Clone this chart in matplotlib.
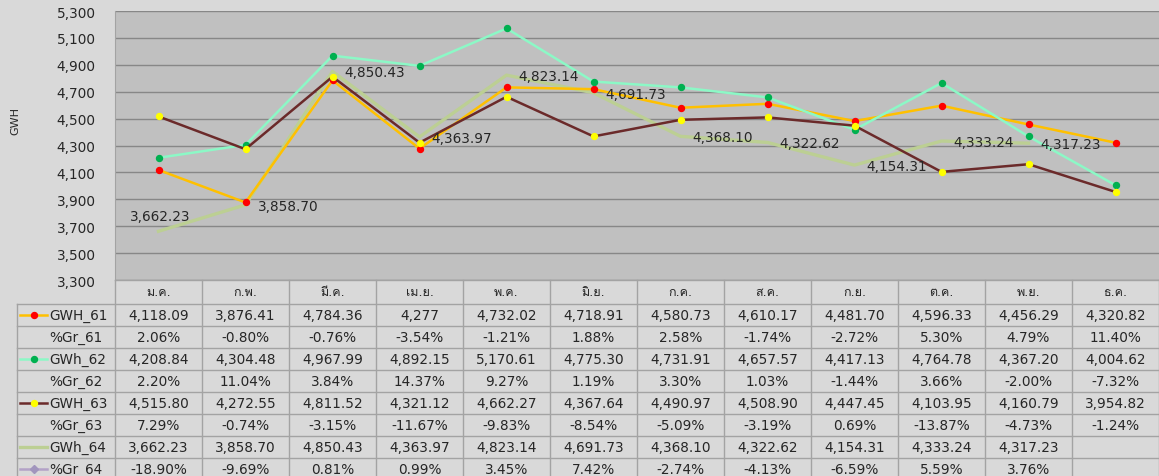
import matplotlib
matplotlib.use('Agg')
import matplotlib.pyplot as plt
from matplotlib import font_manager
from matplotlib.ft2font import FT2Font

# ---- data ----
months = ['ม.ค.', 'ก.พ.', 'มี.ค.', 'เม.ย.', 'พ.ค.', 'มิ.ย.',
          'ก.ค.', 'ส.ค.', 'ก.ย.', 'ต.ค.', 'พ.ย.', 'ธ.ค.']
gwh_61 = [4118.09, 3876.41, 4784.36, 4277, 4732.02, 4718.91,
          4580.73, 4610.17, 4481.70, 4596.33, 4456.29, 4320.82]
gr_61 = [2.06, -0.80, -0.76, -3.54, -1.21, 1.88,
         2.58, -1.74, -2.72, 5.30, 4.79, 11.40]
gwh_62 = [4208.84, 4304.48, 4967.99, 4892.15, 5170.61, 4775.30,
          4731.91, 4657.57, 4417.13, 4764.78, 4367.20, 4004.62]
gr_62 = [2.20, 11.04, 3.84, 14.37, 9.27, 1.19,
         3.30, 1.03, -1.44, 3.66, -2.00, -7.32]
gwh_63 = [4515.80, 4272.55, 4811.52, 4321.12, 4662.27, 4367.64,
          4490.97, 4508.90, 4447.45, 4103.95, 4160.79, 3954.82]
gr_63 = [7.29, -0.74, -3.15, -11.67, -9.83, -8.54,
         -5.09, -3.19, 0.69, -13.87, -4.73, -1.24]
gwh_64 = [3662.23, 3858.70, 4850.43, 4363.97, 4823.14, 4691.73,
          4368.10, 4322.62, 4154.31, 4333.24, 4317.23, None]
gr_64 = [-18.90, -9.69, 0.81, 0.99, 3.45, 7.42,
         -2.74, -4.13, -6.59, 5.59, 3.76, None]
yticks = [3300, 3500, 3700, 3900, 4100, 4300, 4500, 4700, 4900, 5100, 5300]


def find_thai_font():
    for f in font_manager.fontManager.ttflist:
        try:
            if FT2Font(f.fname).get_char_index(0x0E21):
                return f.name
        except Exception:
            pass
    return None


thai = find_thai_font()
fams = ['DejaVu Sans'] + ([thai] if thai else [])
plt.rcParams['font.family'] = fams

BG = '#d9d9d9'
PLOT_BG = '#c0c0c0'
GRID = '#878787'
BORDER = '#a3a3a3'
TXT = '#262626'
FS = 9.8

W, H = 1159, 477
fig = plt.figure(figsize=(W / 100, H / 100), dpi=100, facecolor=BG)
ax = fig.add_axes([115 / W, 1 - 281 / H, (W - 115) / W, (281 - 12) / H])
ax.set_facecolor(PLOT_BG)

x = list(range(len(months)))
x64 = [i for i, v in enumerate(gwh_64) if v is not None]
v64 = [v for v in gwh_64 if v is not None]

styles = {
    'GWH_61': dict(color='#ffc000', lw=1.8, marker='o', ms=4.3, mfc='#ff0000', mec='#ff0000'),
    'GWh_62': dict(color='#8cf8c6', lw=1.8, marker='o', ms=4.3, mfc='#00b050', mec='#00b050'),
    'GWH_63': dict(color='#6b2a2a', lw=1.8, marker='o', ms=4.3, mfc='#ffff00', mec='#ffff00'),
    'GWh_64': dict(color='#bccf93', lw=2.4),
    '%Gr_64': dict(color='#b3a2c7', lw=1.8, marker='D', ms=4, mfc='#a195bd', mec='#a195bd'),
}

ax.plot(x64, v64, zorder=2, **styles['GWh_64'])
ax.plot(x, gwh_61, zorder=3, **styles['GWH_61'])
ax.plot(x, gwh_62, zorder=3, **styles['GWh_62'])
ax.plot(x, gwh_63, zorder=4, **styles['GWH_63'])

# data labels for GWh_64
for i, v in zip(x64, v64):
    if i == 0:
        off, ha = (2, 15), 'center'
    else:
        off, ha = (12, -1), 'left'
    ax.annotate(f'{v:,.2f}', (i, v), xytext=off, textcoords='offset pixels',
                ha=ha, va='center', fontsize=FS, color=TXT, zorder=5)

ax.set_xlim(-0.5, len(months) - 0.5)
ax.set_ylim(yticks[0], yticks[-1])
ax.set_yticks(yticks)
ax.set_yticklabels([f'{v:,}' for v in yticks], fontsize=FS, color=TXT)
ax.tick_params(axis='y', length=0, pad=14)
ax.set_xticks([])
ax.grid(axis='y', color=GRID, lw=1)
ax.set_axisbelow(True)
for s in ['top', 'right', 'bottom']:
    ax.spines[s].set_visible(False)
ax.spines['left'].set_color(BORDER)

fig.text(15 / W, 1 - 121 / H, 'GWH', rotation=90, ha='center', va='center',
         fontsize=8, color=TXT)

# ---- data table ----
tab = fig.add_axes([0, 0, 1, 1], facecolor='none')
tab.set_xlim(0, W)
tab.set_ylim(H, 0)
tab.axis('off')

col0 = 115
cw = (W - col0) / len(months)
top = 281
hdr_bottom = 305
rh = 22
rows = [
    ('GWH_61', gwh_61, 'val', 'GWH_61'),
    ('%Gr_61', gr_61, 'pct', None),
    ('GWh_62', gwh_62, 'val', 'GWh_62'),
    ('%Gr_62', gr_62, 'pct', None),
    ('GWH_63', gwh_63, 'val', 'GWH_63'),
    ('%Gr_63', gr_63, 'pct', None),
    ('GWh_64', gwh_64, 'val', 'GWh_64'),
    ('%Gr_64', gr_64, 'pct', '%Gr_64'),
]
bottom = hdr_bottom + rh * len(rows)


def fmt(v, kind):
    if v is None:
        return ''
    if kind == 'pct':
        return f'{v:.2f}%'
    if float(v).is_integer():
        return f'{v:,.0f}'
    return f'{v:,.2f}'


# grid lines
tab.plot([col0, W], [top, top], color=BORDER, lw=1)
for k in range(len(rows) + 1):
    y = hdr_bottom + k * rh
    tab.plot([17, W], [y, y], color=BORDER, lw=1)
for j in range(len(months) + 1):
    xx = col0 + j * cw
    tab.plot([xx, xx], [top, bottom], color=BORDER, lw=1)
tab.plot([17, 17], [hdr_bottom, bottom], color=BORDER, lw=1)

# header
for j, m in enumerate(months):
    tab.text(col0 + (j + 0.5) * cw, (top + hdr_bottom) / 2, m, ha='center',
             va='center', fontsize=FS - 0.8, color=TXT)

# body
for r, (name, vals, kind, key) in enumerate(rows):
    yc = hdr_bottom + (r + 0.5) * rh
    if key:
        st = dict(styles[key])
        tab.plot([20, 33.5, 47], [yc, yc, yc], markevery=[1], **st)
    tab.text(49, yc, name, ha='left', va='center', fontsize=FS, color=TXT)
    for j, v in enumerate(vals):
        tab.text(col0 + (j + 0.5) * cw, yc, fmt(v, kind), ha='center',
                 va='center', fontsize=FS, color=TXT)

fig.savefig('out.png', dpi=100, facecolor=BG)
